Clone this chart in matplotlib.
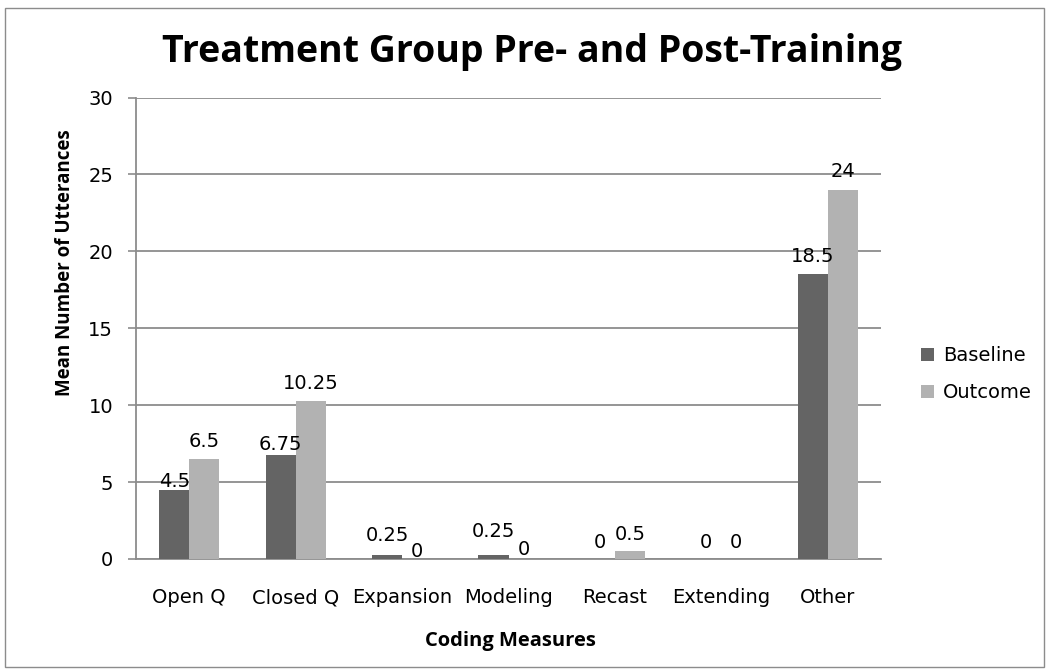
import matplotlib
matplotlib.use("Agg")
import matplotlib.pyplot as plt
import numpy as np
from matplotlib.patches import Rectangle, Patch

categories = ["Open Q", "Closed Q", "Expansion", "Modeling", "Recast", "Extending", "Other"]
baseline = [4.5, 6.75, 0.25, 0.25, 0, 0, 18.5]
outcome = [6.5, 10.25, 0, 0, 0.5, 0, 24]
series_names = ["Baseline", "Outcome"]
colors = ["#646464", "#b2b2b2"]
# label gaps above bar tops (pixels), mimicking the reference's label placement
gap_baseline = [3, 5, 14, 18, 11, 11, 12]
gap_outcome = [12, 12, 2, 4, 11, 11, 13]

plt.rcParams['font.family'] = ['DejaVu Sans']

W, H = 1049, 672
fig = plt.figure(figsize=(W / 100, H / 100), dpi=100)
ax = fig.add_axes([136 / W, 1 - 559 / H, (881 - 136) / W, (559 - 97.5) / H])

x = np.arange(len(categories))
w = 0.282
b1 = ax.bar(x - w / 2, baseline, w, color=colors[0], zorder=3)
b2 = ax.bar(x + w / 2, outcome, w, color=colors[1], zorder=3)

for bars, vals, gaps in ((b1, baseline, gap_baseline), (b2, outcome, gap_outcome)):
    for r, v, g in zip(bars, vals, gaps):
        ax.annotate("%g" % v, (r.get_x() + r.get_width() / 2, r.get_height()),
                    xytext=(0, g * 0.72), textcoords="offset points",
                    ha="center", va="baseline", fontsize=14, zorder=4)

ax.set_xlim(-0.5, len(categories) - 0.5)
ax.set_ylim(0, 30)
ax.set_yticks([0, 5, 10, 15, 20, 25, 30])
ax.set_xticks(x)
ax.set_xticklabels(categories, fontsize=14)
ax.tick_params(axis='y', labelsize=14, length=6, width=1.2, color="#8c8c8c", pad=10.5)
ax.tick_params(axis='x', length=0, pad=21)
ax.yaxis.grid(True, color="#8c8c8c", linewidth=1.3, zorder=0)
ax.set_axisbelow(True)
for s in ["top", "right"]:
    ax.spines[s].set_visible(False)
for s in ["left", "bottom"]:
    ax.spines[s].set_color("#8c8c8c")
    ax.spines[s].set_linewidth(1.3)

fig.text(65 / W, 1 - 263 / H, "Mean Number of Utterances", rotation=90,
         ha="center", va="center", fontsize=13.5, fontweight="bold", family="Open Sans")
fig.text(510 / W, 1 - 646 / H, "Coding Measures", ha="center", va="baseline",
         fontsize=14.5, fontweight="bold", family="Open Sans")

fig.text(532 / W, 1 - 62 / H, "Treatment Group Pre- and Post-Training", ha="center",
         va="baseline", fontsize=27, fontweight="bold", family="Open Sans")

handles = [Patch(facecolor=c, edgecolor="none") for c in colors]
fig.legend(handles, series_names, loc="upper left", bbox_to_anchor=(921 / W, 1 - 346 / H),
           frameon=False, fontsize=14, handlelength=0.67, handleheight=0.67,
           handletextpad=0.45, labelspacing=0.95, borderpad=0, borderaxespad=0)

fig.patches.append(Rectangle((5 / W, 5 / H), 1039 / W, 659 / H, transform=fig.transFigure,
                             fill=False, edgecolor="#8c8c8c", linewidth=1))

fig.savefig("out.png", dpi=100)
